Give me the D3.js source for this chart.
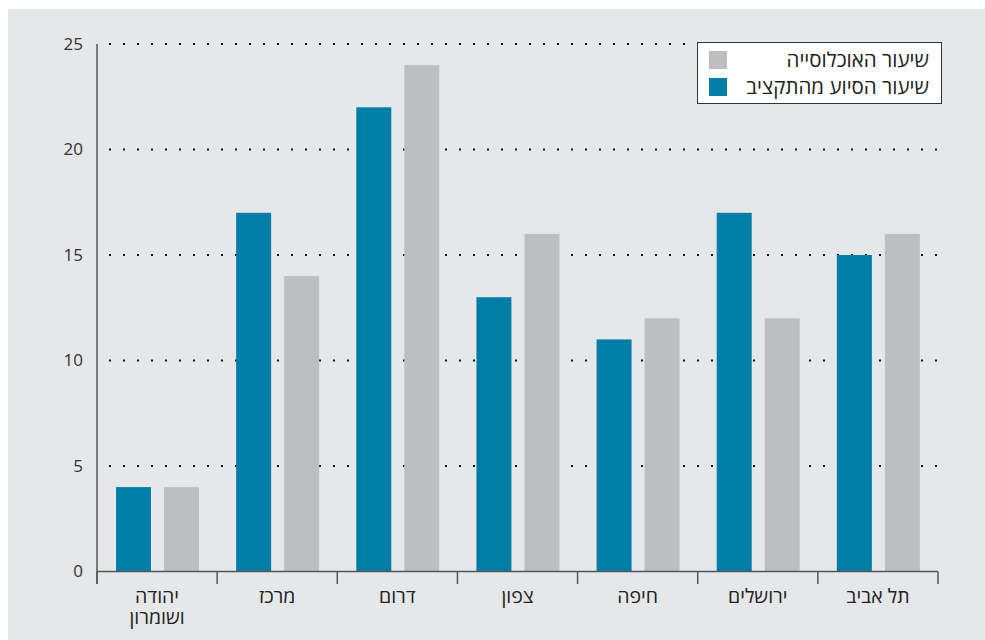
<!DOCTYPE html>
<html><head><meta charset="utf-8">
<script src="https://cdn.jsdelivr.net/npm/d3@7"></script>
<style>
body{margin:0;background:#fff;}
text{font-family:"Open Sans","DejaVu Sans",sans-serif;}
</style></head>
<body>
<svg id="c" width="985" height="640"></svg>
<script>
const categories = ["יהודה ושומרון","מרכז","דרום","צפון","חיפה","ירושלים","תל אביב"];
const supportRate = [4,17,22,13,11,17,15];      // שיעור הסיוע מהתקציב
const populationRate = [4,14,24,16,12,12,16];   // שיעור האוכלוסייה
const yTicks = [0,5,10,15,20,25];
const seriesNames = ["שיעור הסיוע מהתקציב","שיעור האוכלוסייה"];
const seriesColors = ["#007ea7","#bdbec1"];

const svg = d3.select("#c");
svg.append("rect").attr("x",8).attr("y",9).attr("width",977).attr("height",631).attr("fill","#e6e7e9");

const x0 = d3.scaleBand().domain(categories).range([97,938]);
const x1 = d3.scaleBand().domain([0,1]).range([19,102]).paddingInner(13/48);
const y = d3.scaleLinear().domain([0,25]).range([571.5,44]);

// gridlines
svg.append("g").selectAll("line").data(yTicks.filter(d=>d>0)).join("line")
  .attr("x1",109).attr("x2",942).attr("y1",d=>y(d)).attr("y2",d=>y(d))
  .attr("stroke","#111").attr("stroke-width",2).attr("stroke-dasharray","2,12");

// bars
const data = categories.map((c,i)=>({c, v:[supportRate[i],populationRate[i]]}));
const g = svg.append("g").selectAll("g").data(data).join("g")
  .attr("transform",d=>`translate(${x0(d.c)},0)`);
g.selectAll("rect").data(d=>d.v.map((v,k)=>({v,k}))).join("rect")
  .attr("x",d=>x1(d.k)).attr("width",x1.bandwidth())
  .attr("y",d=>y(d.v)).attr("height",d=>y(0)-y(d.v))
  .attr("fill",d=>seriesColors[d.k]);

// y axis
const ya = svg.append("g").attr("transform","translate(97,0)")
  .call(d3.axisLeft(y).tickValues(yTicks).tickSize(0).tickPadding(14));
ya.select(".domain").remove();
ya.selectAll("text").attr("font-size",17).attr("fill","#333").attr("dy","0.3em").style("font-family","'Open Sans','DejaVu Sans',sans-serif");
svg.append("line").attr("x1",97).attr("x2",97).attr("y1",44).attr("y2",584).attr("stroke","#555").attr("stroke-width",1.5);

// x axis
svg.append("line").attr("x1",97).attr("x2",938).attr("y1",y(0)).attr("y2",y(0)).attr("stroke","#555").attr("stroke-width",1.5);
const edges = categories.map(c=>x0(c)).concat([x0.range()[1]]);
svg.append("g").selectAll("line").data(edges).join("line")
  .attr("x1",d=>d).attr("x2",d=>d).attr("y1",y(0)).attr("y2",584)
  .attr("stroke","#555").attr("stroke-width",1.5);
svg.append("g").selectAll("text").data(categories).join("text")
  .attr("x",d=>x0(d)+x0.bandwidth()/2).attr("y",603)
  .attr("text-anchor","middle").attr("font-size",19.5).attr("fill","#222")
  .each(function(d){
    const t=d3.select(this);
    if(d==="יהודה ושומרון"){
      t.append("tspan").attr("x",x0(d)+x0.bandwidth()/2).attr("dy",0).text("יהודה");
      t.append("tspan").attr("x",x0(d)+x0.bandwidth()/2).attr("dy",21).text("ושומרון");
    } else t.text(d);
  });

// legend
const lg = svg.append("g");
lg.append("rect").attr("x",697.5).attr("y",42.5).attr("width",244).attr("height",61)
  .attr("fill","#fff").attr("stroke","#333").attr("stroke-width",1);
const legendItems = [{name:seriesNames[1],color:seriesColors[1]},{name:seriesNames[0],color:seriesColors[0]}];
legendItems.forEach((d,i)=>{
  lg.append("rect").attr("x",709).attr("y",51+i*27).attr("width",18).attr("height",18).attr("fill",d.color);
  lg.append("text").attr("x",929).attr("y",67+i*27).attr("text-anchor","end")
    .attr("font-size",20.5).attr("fill","#222").text(d.name);
});
</script>
</body></html>
